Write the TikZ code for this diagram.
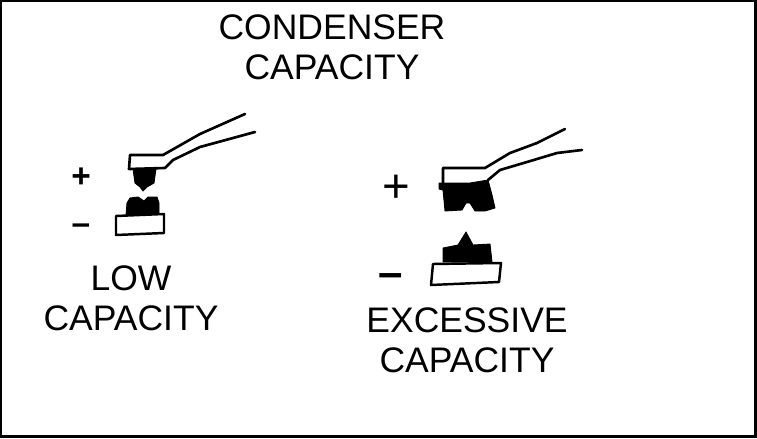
\documentclass[tikz,border=0pt]{standalone}
\usepackage{fontspec}
\setmainfont{Liberation Sans}
\begin{document}
\begin{tikzpicture}[x=0.02cm,y=-0.02cm,font=\fontsize{20.2}{22.7}\selectfont]
\tikzset{
  caption/.style={align=center,inner sep=0pt},
  pole/.style={inner sep=0pt,font=\fontsize{19}{21}\bfseries\selectfont},
  bigpole/.style={inner sep=0pt,font=\fontsize{27}{29}\selectfont},
  bigminus/.style={inner sep=0pt,font=\fontsize{25}{27}\bfseries\selectfont},
  holder/.style={line width=1.5pt,line join=round,line cap=round},
  deposit/.style={fill=black,draw=black,line width=0.5pt,line join=round},
  block/.style={draw=black,fill=white,line width=1.4pt,line join=round}
}
\path[use as bounding box] (0,0) rectangle (757,439);
\draw[black,line width=1.4pt] (1,1) rectangle (755.5,436.5);

\node[caption] (title) at (332,47) {CONDENSER\\CAPACITY};
\node[caption] (low) at (131,298) {LOW\\CAPACITY};
\node[caption] (excessive) at (467,340) {EXCESSIVE\\CAPACITY};

% Low capacity: small points
\node[pole] (lowplus) at (81,178) {+};
\node[pole] (lowminus) at (81,229) {--};
\draw[holder] (245,114) -- (200,134) -- (163,155) -- (130,155) -- (129,169) -- (165,168)
  -- (173,160) -- (200,147) -- (255,132);
\fill[deposit] (133,169) -- (156,169) -- (154,183) -- (147,187) -- (143,191) -- (140,187)
  -- (135,183) -- cycle;
\fill[deposit] (126,215) -- (127,203) -- (130,198) -- (138,197) -- (144,201) -- (148,197)
  -- (157,197) -- (159,203) -- (159,215) -- cycle;
\filldraw[block] (116,216) -- (164,214) -- (164,233) -- (116,235) -- cycle;

% Excessive capacity: large points
\node[bigpole] (highplus) at (396,189) {+};
\node[bigminus] (highminus) at (391,281) {--};
\draw[holder] (565,129) -- (537,143) -- (510,153) -- (485,168) -- (443,168) -- (443,184);
\draw[holder] (582,150) -- (557,153) -- (527,162) -- (500,170) -- (488,180);
\fill[deposit] (439,183) -- (470,183) -- (488,180) -- (492,195) -- (495,208) -- (485,211)
  -- (475,211) -- (470,203) -- (466,203) -- (462,210) -- (445,211) -- (443,190)
  -- (439,189) -- cycle;
\fill[deposit] (443,262) -- (443,248) -- (458,245) -- (466,232) -- (473,245) -- (490,244)
  -- (492,262) -- cycle;
\filldraw[block] (433,264) -- (501,263) -- (499,282) -- (431,285) -- cycle;
\end{tikzpicture}
\end{document}
